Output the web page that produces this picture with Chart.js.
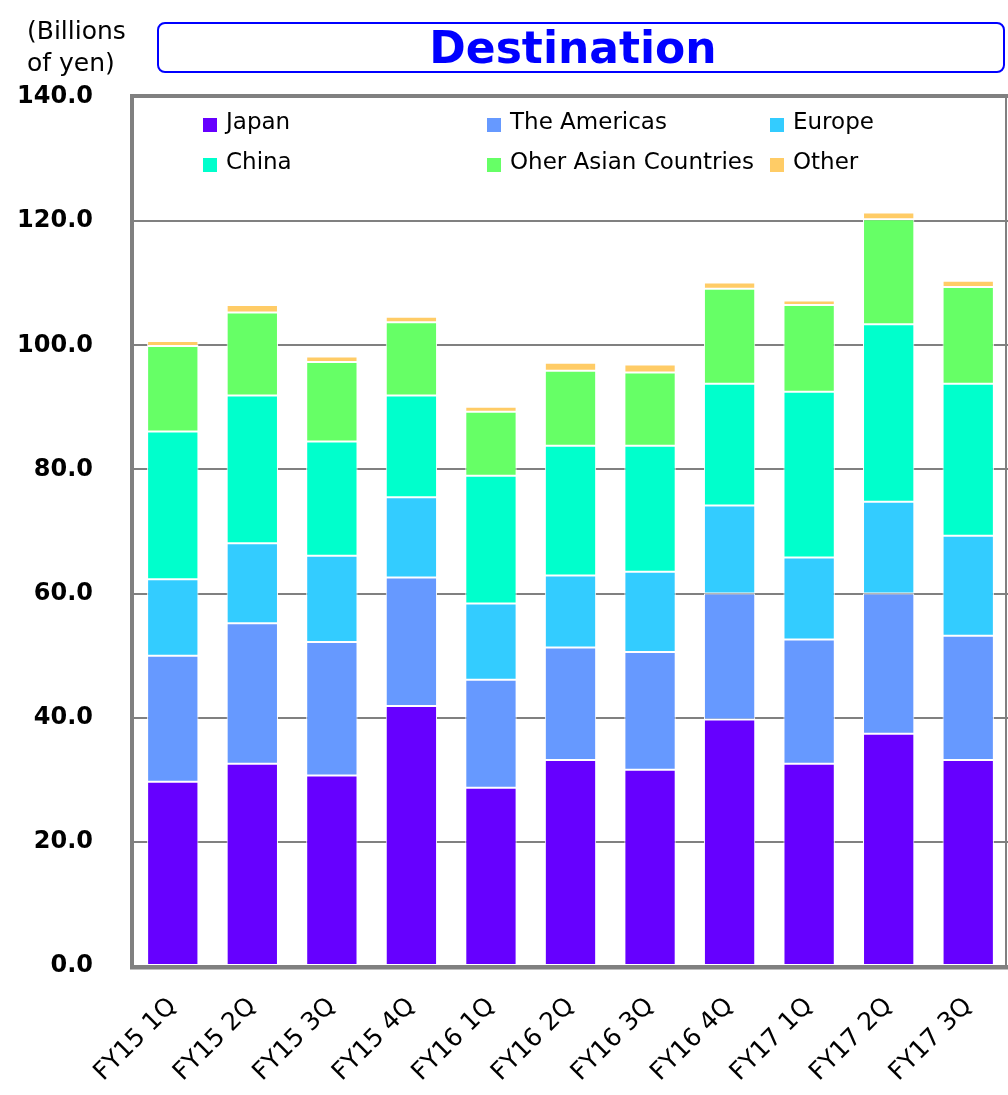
<!DOCTYPE html>
<html>
<head>
<meta charset="utf-8">
<script src="https://cdn.jsdelivr.net/npm/chart.js@4/dist/chart.umd.min.js"></script>
<style>
  html, body { margin: 0; padding: 0; background: #ffffff; }
  #wrap { position: relative; width: 1008px; height: 1095px; overflow: hidden; }
  #chart { position: absolute; left: 0; top: 0; }
  #unit {
    position: absolute; left: 27px; top: 15px;
    font-family: "DejaVu Sans", Verdana, sans-serif; font-size: 25px; line-height: 32px;
    color: #000;
  }
  #titlebox {
    position: absolute; left: 157px; top: 22px; width: 842px; height: 47px;
    border: 2px solid #0000ff; border-radius: 8px; box-sizing: content-box;
    text-align: center; padding-right: 2px;
  }
  #titlebox span {
    display: inline-block; margin-right: 14px;
    font-family: "DejaVu Sans", Verdana, sans-serif; font-weight: bold; font-size: 44px;
    line-height: 48px; color: #0000ff;
  }
</style>
</head>
<body>
<div id="wrap">
  <canvas id="chart" width="1008" height="1095"></canvas>
  <div id="unit">(Billions<br>of yen)</div>
  <div id="titlebox"><span>Destination</span></div>
</div>
<script>
// Quarterly sales by destination, billions of yen
const categories = ['FY15 1Q', 'FY15 2Q', 'FY15 3Q', 'FY15 4Q', 'FY16 1Q', 'FY16 2Q',
                    'FY16 3Q', 'FY16 4Q', 'FY17 1Q', 'FY17 2Q', 'FY17 3Q'];
const japan      = [29.7, 32.6, 30.7, 41.9, 28.7, 33.2, 31.6, 39.7, 32.6, 37.4, 33.2];
const americas   = [20.3, 22.6, 21.5, 20.7, 17.4, 18.1, 19.0, 20.3, 20.0, 22.6, 20.0];
const europe     = [12.3, 12.9, 13.9, 12.9, 12.3, 11.6, 12.9, 14.2, 13.2, 14.8, 16.1];
const china      = [23.8, 23.8, 18.4, 16.4, 20.6, 20.9, 20.3, 19.6, 26.7, 28.6, 24.5];
const otherAsia  = [13.8, 13.4, 12.8, 11.8, 10.3, 12.1, 11.8, 15.3, 14.0, 16.9, 15.6];
const other      = [0.8, 1.2, 0.9, 0.9, 0.8, 1.3, 1.3, 1.0, 0.7, 1.1, 1.0];

const seriesNames = ['Japan', 'The Americas', 'Europe', 'China', 'Oher Asian Countries', 'Other'];
const seriesColors = ['#6600ff', '#6699ff', '#33ccff', '#00ffcc', '#66ff66', '#ffcc66'];
const seriesValues = [japan, americas, europe, china, otherAsia, other];

const yTicks = [0, 20, 40, 60, 80, 100, 120, 140];

const CHART_LEFT = 133, CHART_BOTTOM = 966, CHART_TOP = 97;

// Legend laid out in a 3-column grid inside the plot area
const gridLegend = {
  id: 'gridLegend',
  afterDraw(chart) {
    const { ctx, chartArea } = chart;
    const colX = [70, 354, 637];
    const rowY = [26, 66];
    ctx.save();
    ctx.font = '23px "DejaVu Sans", Verdana, sans-serif';
    ctx.textBaseline = 'middle';
    ctx.textAlign = 'left';
    chart.data.datasets.forEach((ds, i) => {
      const x = chartArea.left + colX[i % 3];
      const y = chartArea.top + rowY[Math.floor(i / 3)];
      ctx.fillStyle = ds.backgroundColor;
      ctx.fillRect(x, y - 5, 14, 14);
      ctx.fillStyle = '#000000';
      ctx.fillText(ds.label, x + 23, y);
    });
    ctx.restore();
  }
};

// Grey frame around the plot area
const plotFrame = {
  id: 'plotFrame',
  afterDraw(chart) {
    const { ctx, chartArea: a } = chart;
    ctx.save();
    ctx.strokeStyle = '#808080';
    ctx.lineWidth = 4;
    ctx.beginPath();
    ctx.moveTo(a.left - 1, a.bottom + 2);
    ctx.lineTo(a.left - 1, a.top - 1);
    ctx.lineTo(a.right, a.top - 1);
    ctx.stroke();
    ctx.lineWidth = 2;
    ctx.beginPath();
    ctx.moveTo(a.right - 2, a.top);
    ctx.lineTo(a.right - 2, a.bottom + 2);
    ctx.stroke();
    ctx.lineWidth = 3;
    ctx.beginPath();
    ctx.moveTo(a.left - 3, a.bottom + 2);
    ctx.lineTo(a.right, a.bottom + 2);
    ctx.stroke();
    ctx.restore();
  }
};

new Chart(document.getElementById('chart'), {
  type: 'bar',
  data: {
    labels: categories,
    datasets: seriesNames.map((name, i) => ({
      label: name,
      data: seriesValues[i],
      backgroundColor: seriesColors[i],
      borderColor: '#ffffff',
      borderWidth: 1,
      borderSkipped: false,
      barPercentage: 0.645,
      categoryPercentage: 1.0
    }))
  },
  options: {
    responsive: false,
    animation: false,
    layout: { padding: { top: CHART_TOP, right: 0, left: 0, bottom: 0 } },
    plugins: { legend: { display: false }, tooltip: { enabled: false } },
    scales: {
      x: {
        stacked: true,
        grid: { display: false },
        border: { display: false },
        ticks: {
          maxRotation: 45, minRotation: 45,
          padding: 18,
          color: '#000000',
          font: { family: '"DejaVu Sans", Verdana, sans-serif', size: 25 }
        },
        afterFit(scale) { scale.height = 1095 - CHART_BOTTOM; }
      },
      y: {
        stacked: true,
        min: 0, max: 140,
        afterBuildTicks(scale) { scale.ticks = yTicks.map(v => ({ value: v })); },
        grid: { color: '#808080', lineWidth: 2, drawTicks: false },
        border: { display: false },
        ticks: {
          padding: 40,
          color: '#000000',
          font: { family: '"DejaVu Sans", Verdana, sans-serif', size: 24, weight: 'bold' },
          callback: v => Number(v).toFixed(1)
        },
        afterFit(scale) { scale.width = CHART_LEFT; }
      }
    }
  },
  plugins: [gridLegend, plotFrame]
});
</script>
</body>
</html>
